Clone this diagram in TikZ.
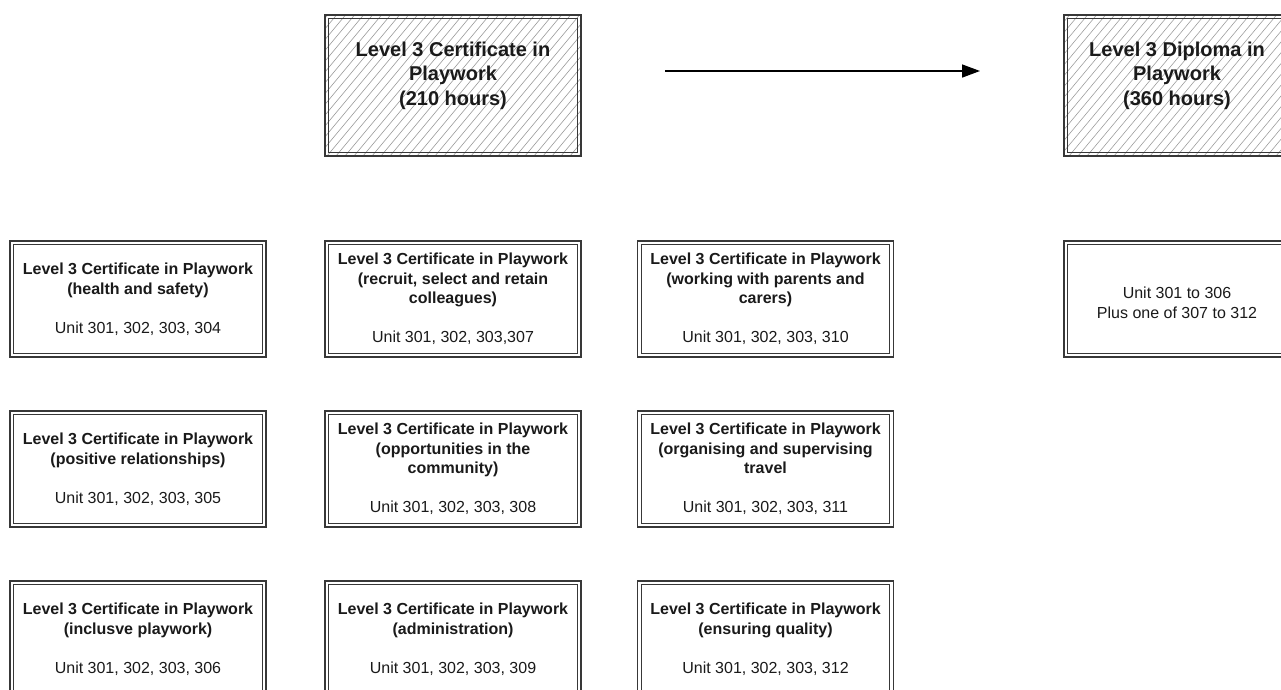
\documentclass[tikz,border=0pt]{standalone}
\usepackage{fontspec}
\setmainfont{Liberation Sans}
\usetikzlibrary{arrows.meta,calc}
\definecolor{ink}{HTML}{1A1A1A}
\definecolor{framec}{HTML}{383838}
\definecolor{hatchc}{HTML}{9C9C9C}
\tikzset{
  unitbox/.style={draw=framec, line width=1.8pt, rectangle, minimum width=256pt,
    minimum height=116pt, inner sep=0pt, align=center, text=ink,
    font=\fontsize{16}{19.5}\selectfont},
  hatched/.style={path picture={
    \foreach \i in {-270,-261,...,150}{
      \draw[hatchc, line width=0.6pt] ([xshift=\i pt]path picture bounding box.south) -- ++(130,-156);
    }}},
  topbox/.style={unitbox, hatched, minimum height=141pt,
    font=\fontsize{20}{24.5}\selectfont\bfseries},
  innerframe/.style={draw=framec, line width=1pt},
  arrowline/.style={draw=black, line width=1.5pt, -{Triangle[length=18pt,width=13pt]}}
}
\begin{document}
\begin{tikzpicture}[x=1pt,y=-1pt]
\useasboundingbox[fill=white] (0,0) rectangle (1281,689);
\clip (0,0) rectangle (1281,689);

\node[topbox] (cert) at (453,85.5) {Level 3 Certificate in\\Playwork\\(210 hours)\\\mbox{}};
\node[topbox, minimum width=226pt] (dip) at (1177,85.5) {Level 3 Diploma in\\Playwork\\(360 hours)\\\mbox{}};

\coordinate (arrS) at (665,71);
\coordinate (arrE) at (980,71);
\draw[arrowline] (arrS) -- (arrE);

\node[unitbox] (b1) at (138,299) {\textbf{Level 3 Certificate in Playwork}\\\textbf{(health and safety)}\\[19.5pt]Unit 301, 302, 303, 304};
\node[unitbox] (b2) at (453,299) {\textbf{Level 3 Certificate in Playwork}\\\textbf{(recruit, select and retain}\\\textbf{colleagues)}\\[19.5pt]Unit 301, 302, 303,307};
\node[unitbox] (b3) at (765.5,299) {\textbf{Level 3 Certificate in Playwork}\\\textbf{(working with parents and}\\\textbf{carers)}\\[19.5pt]Unit 301, 302, 303, 310};
\node[unitbox, minimum width=226pt] (dip2) at (1177,299) {\mbox{}\\Unit 301 to 306\\Plus one of 307 to 312};

\node[unitbox] (b4) at (138,469) {\textbf{Level 3 Certificate in Playwork}\\\textbf{(positive relationships)}\\[19.5pt]Unit 301, 302, 303, 305};
\node[unitbox] (b5) at (453,469) {\textbf{Level 3 Certificate in Playwork}\\\textbf{(opportunities in the}\\\textbf{community)}\\[19.5pt]Unit 301, 302, 303, 308};
\node[unitbox] (b6) at (765.5,469) {\textbf{Level 3 Certificate in Playwork}\\\textbf{(organising and supervising}\\\textbf{travel}\\[19.5pt]Unit 301, 302, 303, 311};

\node[unitbox] (b7) at (138,639) {\textbf{Level 3 Certificate in Playwork}\\\textbf{(inclusve playwork)}\\[19.5pt]Unit 301, 302, 303, 306};
\node[unitbox] (b8) at (453,639) {\textbf{Level 3 Certificate in Playwork}\\\textbf{(administration)}\\[19.5pt]Unit 301, 302, 303, 309};
\node[unitbox] (b9) at (765.5,639) {\textbf{Level 3 Certificate in Playwork}\\\textbf{(ensuring quality)}\\[19.5pt]Unit 301, 302, 303, 312};

\foreach \n in {cert,dip,b1,b2,b3,dip2,b4,b5,b6,b7,b8,b9}{
  \draw[innerframe] ($(\n.north west)+(4.5,4.5)$) rectangle ($(\n.south east)+(-4.5,-4.5)$);
}
\end{tikzpicture}
\end{document}
